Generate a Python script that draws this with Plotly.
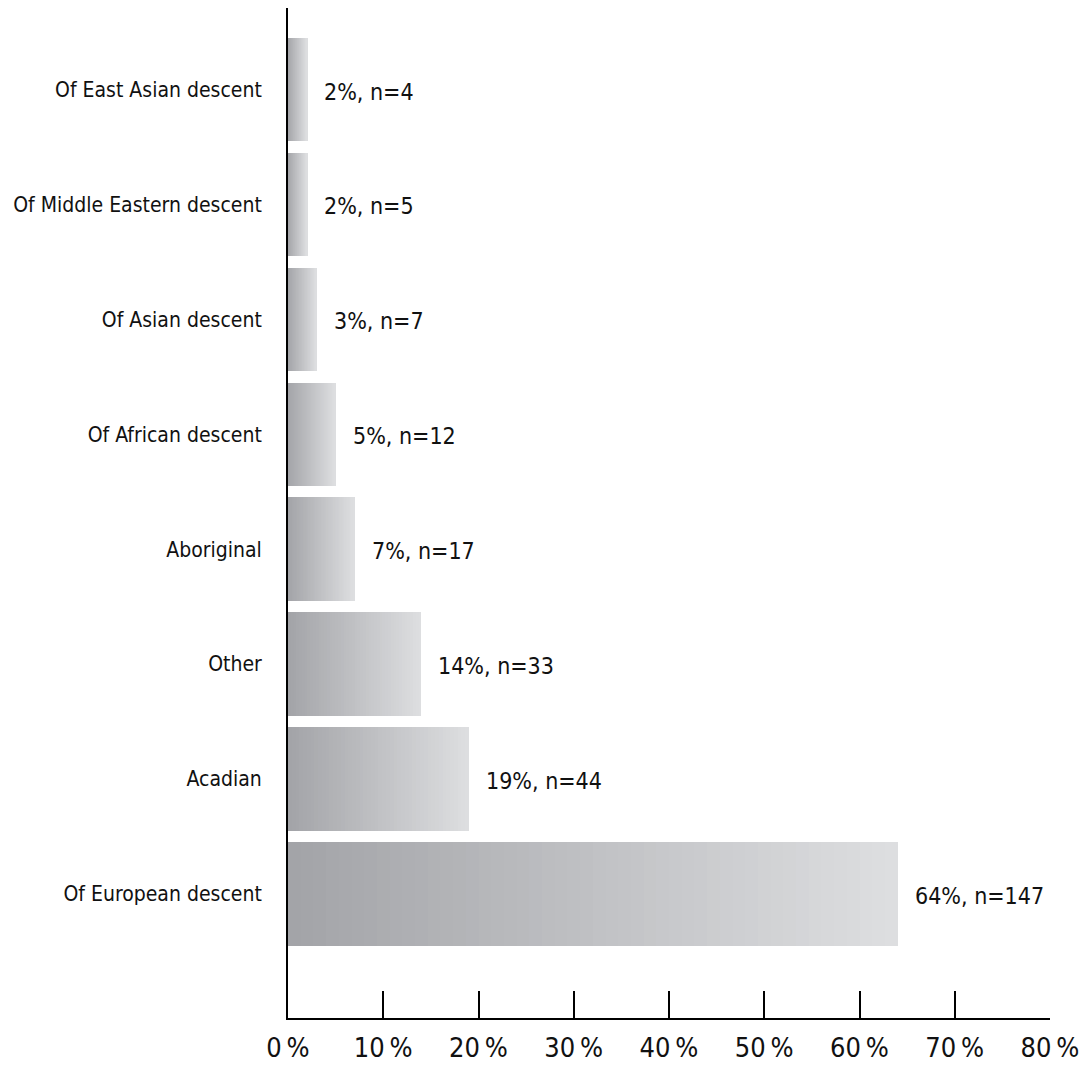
import plotly.graph_objects as go

categories = ["Of European descent", "Acadian", "Other", "Aboriginal",
              "Of African descent", "Of Asian descent", "Of Middle Eastern descent",
              "Of East Asian descent"]
percent = [64, 19, 14, 7, 5, 3, 2, 2]
counts = [147, 44, 33, 17, 12, 7, 5, 4]
tick_vals = [0, 10, 20, 30, 40, 50, 60, 70, 80]
tick_text = ["0\u2009%", "10\u2009%", "20\u2009%", "30\u2009%", "40\u2009%",
             "50\u2009%", "60\u2009%", "70\u2009%", "80\u2009%"]

FONT = "DejaVu Sans Condensed, Liberation Sans Narrow, Roboto Condensed, sans-serif"
N_STEPS = 48
dark = (163, 164, 168)
light = (221, 222, 224)

fig = go.Figure()
for i in range(N_STEPS):
    t = i / (N_STEPS - 1)
    c = tuple(round(dark[k] + (light[k] - dark[k]) * t) for k in range(3))
    col = "rgb(%d,%d,%d)" % c
    fig.add_trace(go.Bar(
        y=categories, x=[v / N_STEPS for v in percent], orientation="h",
        marker=dict(color=col, line=dict(width=0)),
        hoverinfo="skip", showlegend=False,
    ))

for cat, p, n in zip(categories, percent, counts):
    fig.add_annotation(x=p, y=cat, text=f"{p}%, n={n}", showarrow=False,
                       xanchor="left", xshift=15, yshift=-2,
                       font=dict(family=FONT, size=23, color="#111"))

fig.update_layout(
    width=1089, height=1065,
    barmode="stack", bargap=0.1,
    plot_bgcolor="white", paper_bgcolor="white",
    margin=dict(l=288, r=39, t=8, b=47, autoexpand=False),
    font=dict(family=FONT, size=23, color="#111"),
    xaxis=dict(range=[0, 80], tickvals=tick_vals, ticktext=tick_text,
               ticks="inside", ticklen=27, tickwidth=2, tickcolor="black",
               showline=True, linecolor="black", linewidth=2, automargin=False,
               showgrid=False, zeroline=False, ticklabelstandoff=5,
               tickfont=dict(family=FONT, size=27, color="#111")),
    yaxis=dict(range=[-1.08, 7.71], showline=True, linecolor="black", linewidth=2,
               ticks="", showgrid=False, zeroline=False, ticklabelstandoff=20,
               automargin=False,
               tickfont=dict(family=FONT, size=21, color="#111")),
)

fig.write_html("out.html")
